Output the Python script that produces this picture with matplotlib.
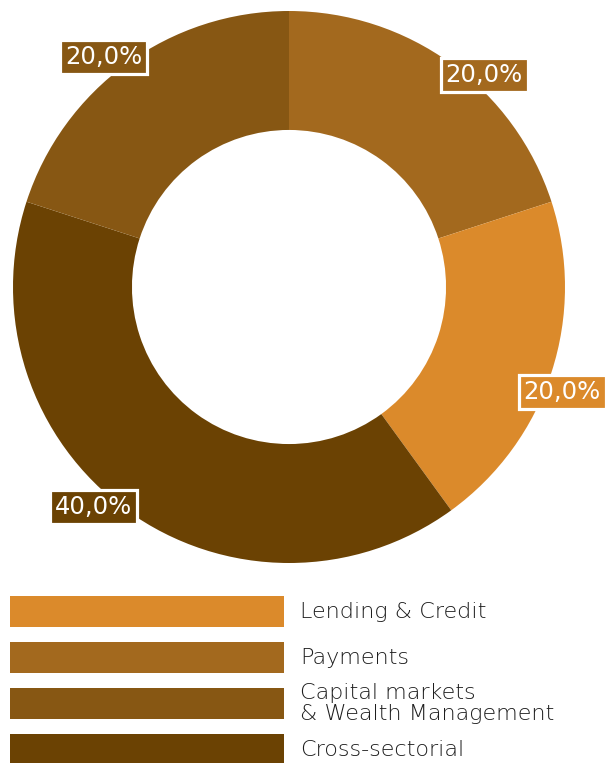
import matplotlib.pyplot as plt
import numpy as np

# slice order, clockwise from 12 o'clock
sectors = ["Payments", "Lending & Credit", "Cross-sectorial",
           "Capital markets\n& Wealth Management"]
shares = [20.0, 20.0, 40.0, 20.0]
colors = ["#A3691E", "#DB8A2B", "#6B4203", "#875713"]

# legend order
legend_names = ["Lending & Credit", "Payments",
                "Capital markets\n& Wealth Management", "Cross-sectorial"]
legend_colors = ["#DB8A2B", "#A3691E", "#875713", "#6B4203"]

W, H = 607, 763
fig = plt.figure(figsize=(W / 100, H / 100), dpi=100)

# donut, laid out in pixels
cx, cy, R = 289, 287, 276
ax = fig.add_axes([(cx - R) / W, (H - cy - R) / H, 2 * R / W, 2 * R / H])
wedges, _ = ax.pie(shares, colors=colors, startangle=90, counterclock=False,
                   radius=1.0, wedgeprops=dict(width=0.431, linewidth=0))
ax.set_xlim(-1, 1)
ax.set_ylim(-1, 1)
ax.set_aspect("equal")
ax.axis("off")

# value boxes sit on / just past the outer rim
lab_r = [1.045, 1.06, 1.065, 1.07]
lab_shift = [-6.6, -3, -5.6, 2.8]
for w, val, col, r, d in zip(wedges, shares, colors, lab_r, lab_shift):
    ang = np.deg2rad((w.theta1 + w.theta2) / 2 + d)
    ax.text(r * np.cos(ang), r * np.sin(ang), f"{val:.1f}".replace(".", ",") + "%",
            ha="center", va="center", color="white", fontsize=17.5,
            fontfamily="DejaVu Sans", fontweight="medium", clip_on=False,
            bbox=dict(boxstyle="square,pad=0.2", fc=col, ec="white", lw=2.3))

# legend rows
lg = fig.add_axes([0, 0, 1, 1 - 585 / H])
lg.set_xlim(0, W)
lg.set_ylim(H, 585)
lg.axis("off")
rows = np.arange(len(legend_names))
ys = 611.5 + rows * 46
lg.barh(ys, 274, left=10, height=31, color=legend_colors)
for y, name in zip(ys, legend_names):
    lg.text(300, y, name, ha="left", va="center", fontsize=16,
            fontfamily="DejaVu Sans", fontweight="light", color="#1e1e1e",
            linespacing=1.1)

fig.savefig("out.png", dpi=100)
